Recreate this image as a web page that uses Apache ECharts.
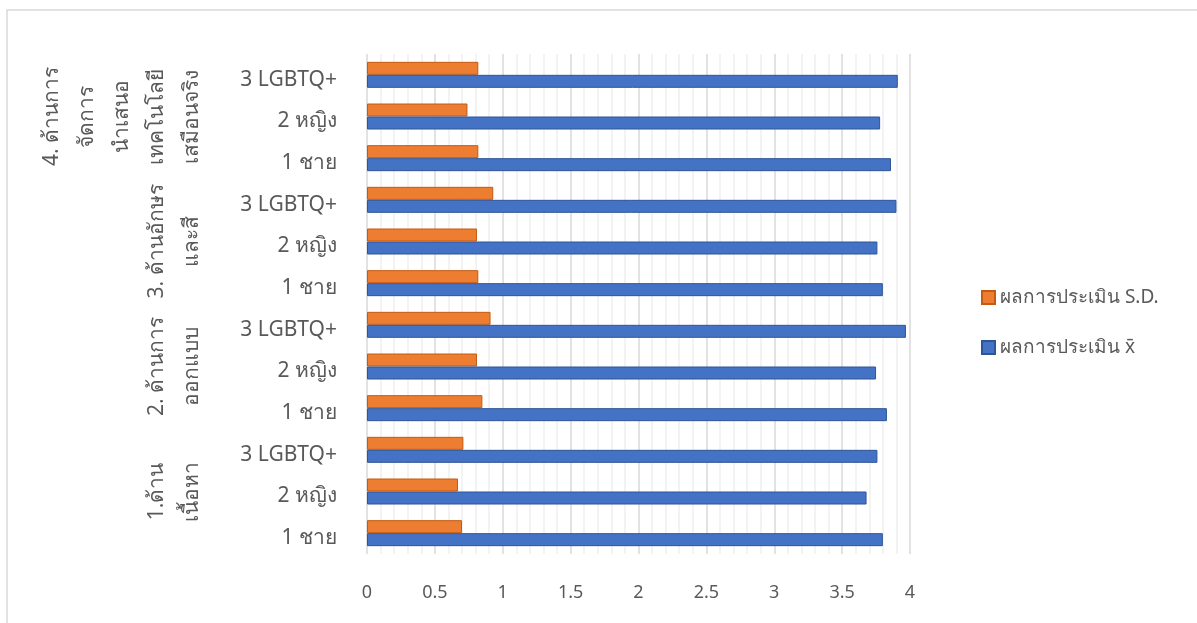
<!DOCTYPE html>
<html>
<head>
<meta charset="utf-8">
<script src="https://cdn.jsdelivr.net/npm/echarts@6/dist/echarts.min.js"></script>
<style>
  html, body { margin: 0; padding: 0; background: #fff; }
  #main { width: 1197px; height: 623px; }
</style>
</head>
<body>
<div id="main"></div>
<script>
// bottom to top, as Excel draws them
var categories = ['1 ชาย', '2 หญิง', '3 LGBTQ+', '1 ชาย', '2 หญิง', '3 LGBTQ+',
                  '1 ชาย', '2 หญิง', '3 LGBTQ+', '1 ชาย', '2 หญิง', '3 LGBTQ+'];
var groups = ['1.ด้าน\nเนื้อหา', '2. ด้านการ\nออกแบบ', '3. ด้านอักษร\nและสี',
              '4. ด้านการ\nจัดการ\nนำเสนอ\nเทคโนโลยี\nเสมือนจริง'];
var sdValues = [0.70, 0.67, 0.71, 0.85, 0.81, 0.91, 0.82, 0.81, 0.93, 0.82, 0.74, 0.82];
var meanValues = [3.80, 3.68, 3.76, 3.83, 3.75, 3.97, 3.80, 3.76, 3.90, 3.86, 3.78, 3.91];
var xTicks = [0, 0.5, 1, 1.5, 2, 2.5, 3, 3.5, 4];

var font = '"Noto Sans", "DejaVu Sans", sans-serif';
var myChart = echarts.init(document.getElementById('main'));
myChart.setOption({
  animation: false,
  textStyle: { fontFamily: font },
  graphic: [{
    type: 'rect', silent: true, z: -1,
    shape: { x: 7, y: 10, width: 1300, height: 700 },
    style: { fill: 'none', stroke: '#d9d9d9', lineWidth: 1.5 }
  }],
  legend: {
    orient: 'vertical',
    left: 976,
    top: 283,
    itemWidth: 13,
    itemHeight: 13,
    itemGap: 31,
    icon: 'rect',
    textStyle: { fontSize: 19, color: '#595959', fontFamily: font },
    data: ['ผลการประเมิน S.D.', 'ผลการประเมิน x̄']
  },
  grid: { left: 367, top: 54, width: 543, height: 500 },
  xAxis: {
    type: 'value',
    min: xTicks[0],
    max: xTicks[xTicks.length - 1],
    interval: 0.5,
    axisLine: { show: false },
    axisTick: { show: false },
    axisLabel: { fontSize: 18, color: '#595959', margin: 30 },
    splitLine: { lineStyle: { color: '#d9d9d9', width: 1.5 } },
    minorTick: { show: false, splitNumber: 5 },
    minorSplitLine: { show: true, lineStyle: { color: '#efefef', width: 1.5 } }
  },
  yAxis: [{
    type: 'category',
    data: categories,
    axisLine: { show: false },
    axisTick: { show: false },
    axisLabel: { fontSize: 21, color: '#595959', margin: 30, verticalAlign: 'top', lineHeight: 10 }
  }, {
    type: 'category',
    data: groups,
    position: 'left',
    offset: 151,
    axisLine: { show: false },
    axisTick: { show: false },
    axisLabel: {
      rotate: 90,
      interval: 0,
      fontSize: 21,
      color: '#595959',
      lineHeight: 35,
      align: 'center',
      verticalAlign: 'bottom',
      margin: 6
    }
  }],
  series: [{
    name: 'ผลการประเมิน S.D.',
    type: 'bar',
    data: sdValues,
    barWidth: 13,
    barGap: '0%',
    itemStyle: { color: '#ed7d31', borderColor: '#c55a11', borderWidth: 1 }
  }, {
    name: 'ผลการประเมิน x̄',
    type: 'bar',
    data: meanValues,
    barWidth: 13,
    barGap: '0%',
    itemStyle: { color: '#4472c4', borderColor: '#2f5597', borderWidth: 1 }
  }]
});
</script>
</body>
</html>
